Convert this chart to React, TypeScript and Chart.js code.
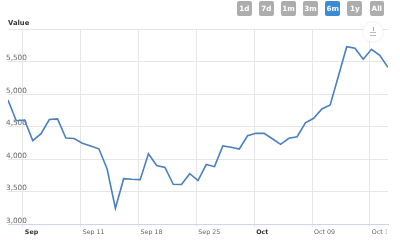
import { useEffect, useRef } from "react";
import { Chart, registerables } from "chart.js";

Chart.register(...registerables);

// Daily closing value, one sample per day starting Sep 2.
const PRICES = [
  4908, 4589, 4600, 4282, 4389, 4608, 4618, 4323, 4315, 4242, 4200, 4157,
  3846, 3242, 3697, 3688, 3682, 4082, 3900, 3869, 3611, 3608, 3774, 3669,
  3915, 3882, 4200, 4180, 4154, 4358, 4395, 4395, 4312, 4226, 4318, 4343,
  4558, 4626, 4769, 4831, 5277, 5728, 5703, 5534, 5688, 5595, 5411,
];

// Weekly x-axis ticks (Mondays); month starts are shown in bold.
const WEEK_LABELS = ["Sep", "Sep 11", "Sep 18", "Sep 25", "Oct", "Oct 09", "Oct 16"];
const MONTH_LABELS = ["Sep", "Oct"];
const FIRST_WEEK_OFFSET = 1.8; // days from the first sample to the first weekly tick
const DAYS_PER_WEEK = 7;

const Y_MIN = 3000;
const Y_MAX = 6000;
const Y_STEP = 500;

const RANGE_BUTTONS = ["1d", "7d", "1m", "3m", "6m", "1y", "All"];
const SELECTED_RANGE = "6m";

const FONT = "'DejaVu Sans', Verdana, sans-serif";

// Clips the x-axis labels (drawn above the datasets) near the plot's right edge.
const clipLabelsPlugin = {
  id: "clipLabels",
  afterDatasetsDraw(chart: any) {
    const ctx = chart.ctx;
    ctx.save();
    ctx.beginPath();
    ctx.rect(0, 0, chart.chartArea.right - 1.5, chart.height);
    ctx.clip();
  },
  afterDraw(chart: any) {
    chart.ctx.restore();
  },
};

function ValueChart() {
  const canvasRef = useRef<HTMLCanvasElement | null>(null);

  useEffect(() => {
    const canvas = canvasRef.current;
    if (!canvas) return;
    const tickValues = WEEK_LABELS.map((_, k) => FIRST_WEEK_OFFSET + k * DAYS_PER_WEEK);

    const chart = new Chart(canvas, {
      type: "line",
      data: {
        datasets: [
          {
            label: "Value",
            data: PRICES.map((v, i) => ({ x: i, y: v })),
            borderColor: "#4a80bd",
            borderWidth: 1.6,
            pointRadius: 0,
            tension: 0,
            fill: false,
          },
        ],
      },
      plugins: [clipLabelsPlugin],
      options: {
        animation: false,
        responsive: false,
        devicePixelRatio: 1,
        layout: { padding: { left: 8, right: 12, top: 29, bottom: 0 } },
        plugins: {
          legend: { display: false },
          tooltip: { enabled: false },
          title: { display: false },
        },
        scales: {
          x: {
            type: "linear",
            min: 0,
            max: PRICES.length - 1,
            afterBuildTicks: (scale: any) => {
              scale.ticks = tickValues.map((value) => ({ value }));
            },
            afterFit: (scale: any) => {
              scale.height = 20;
            },
            grid: {
              color: "#e6e6e6",
              lineWidth: 1,
              drawTicks: true,
              tickLength: 3,
            },
            border: { display: true, color: "#ccd6eb" },
            ticks: {
              z: 1,
              autoSkip: false,
              maxRotation: 0,
              align: "start",
              labelOffset: 2,
              padding: 2,
              color: (ctx: any) =>
                MONTH_LABELS.includes(WEEK_LABELS[ctx.index]) ? "#333333" : "#666666",
              font: (ctx: any) => ({
                family: FONT,
                size: 6.3,
                weight: MONTH_LABELS.includes(WEEK_LABELS[ctx.index]) ? "bold" : "normal",
              }),
              callback: (_value: any, index: number) => WEEK_LABELS[index],
            },
          },
          y: {
            min: Y_MIN,
            max: Y_MAX,
            afterFit: (scale: any) => {
              scale.width = 0;
            },
            grid: { color: "#e6e6e6", lineWidth: 1, drawTicks: false },
            border: { display: false },
            ticks: {
              stepSize: Y_STEP,
              mirror: true,
              padding: -2,
              labelOffset: -3,
              color: "#666666",
              font: { family: FONT, size: 7.3 },
              callback: (value: any) =>
                value === Y_MAX ? "" : Number(value).toLocaleString("en-US"),
            },
          },
        },
      },
    });
    return () => chart.destroy();
  }, []);

  return (
    <canvas
      ref={canvasRef}
      width={400}
      height={244}
      style={{ position: "absolute", left: 0, top: 0, width: 400, height: 244 }}
    />
  );
}

export default function App() {
  return (
    <div
      style={{
        position: "fixed",
        left: 0,
        top: 0,
        width: 400,
        height: 244,
        background: "#ffffff",
        overflow: "hidden",
        fontFamily: FONT,
      }}
    >
      <ValueChart />
      <div
        style={{
          position: "absolute",
          left: 8,
          top: 19,
          fontSize: 6.8,
          fontWeight: "bold",
          color: "#333333",
          lineHeight: "9px",
        }}
      >
        Value
      </div>
      <div
        style={{
          position: "absolute",
          left: 237,
          top: 1,
          display: "flex",
          gap: 7.6,
        }}
      >
        {RANGE_BUTTONS.map((b) => (
          <div
            key={b}
            style={{
              width: 14.5,
              height: 14.5,
              borderRadius: 2,
              background: b === SELECTED_RANGE ? "#3a8ad6" : "#adadad",
              color: "#ffffff",
              fontSize: 7.2,
              fontWeight: "bold",
              display: "flex",
              alignItems: "center",
              justifyContent: "center",
            }}
          >
            {b}
          </div>
        ))}
      </div>
      <div
        style={{
          position: "absolute",
          left: 363,
          top: 22,
          width: 20,
          height: 20,
          borderRadius: "50%",
          background: "#ffffff",
          boxShadow: "0 0 2px rgba(0,0,0,0.15)",
        }}
      >
        <div style={{ position: "absolute", left: 9.5, top: 5, width: 1, height: 4, background: "#aaaaaa" }} />
        <div style={{ position: "absolute", left: 7, top: 10, width: 6, height: 1, background: "#bbbbbb" }} />
        <div style={{ position: "absolute", left: 7, top: 13, width: 6, height: 1, background: "#bbbbbb" }} />
      </div>
    </div>
  );
}
